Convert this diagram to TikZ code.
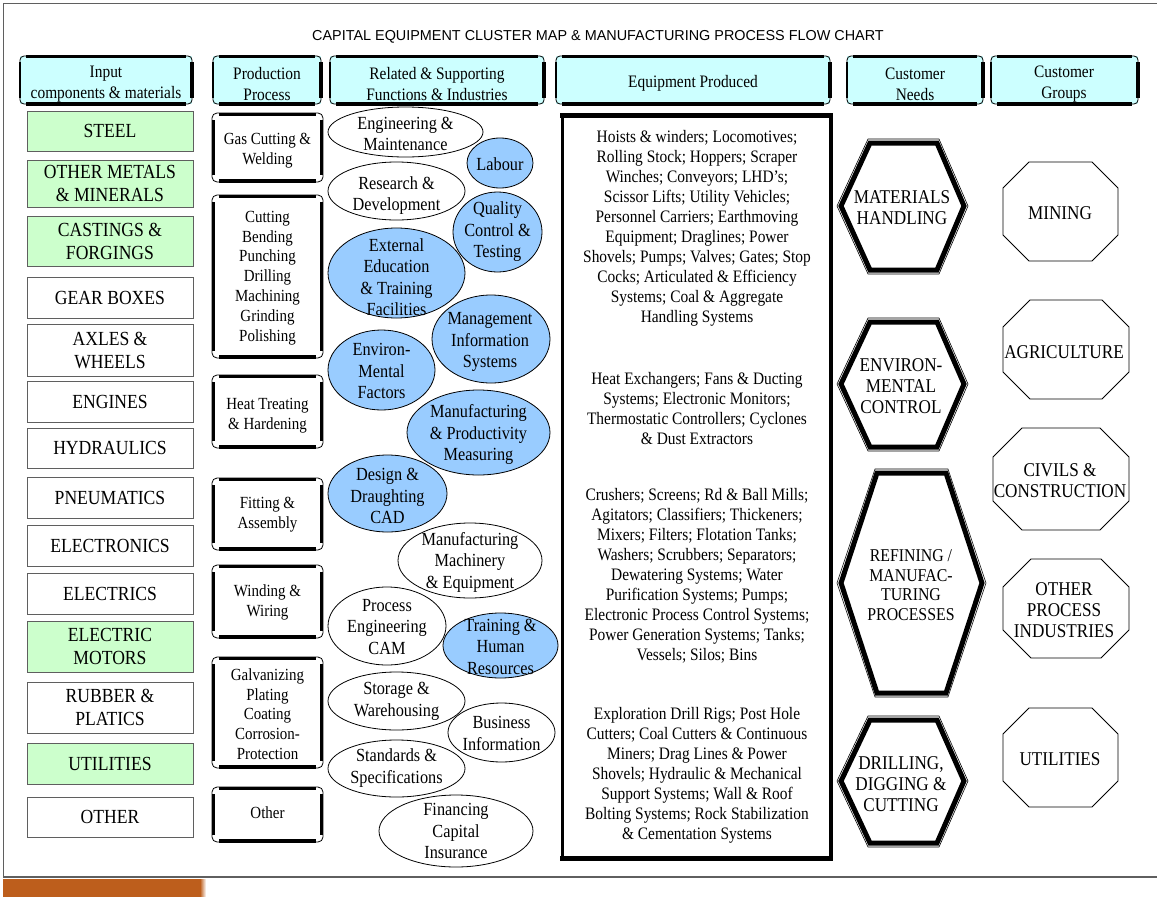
\documentclass[tikz,border=0pt]{standalone}
\usepackage{fontspec}
\setmainfont{Liberation Serif}[FakeStretch=0.88]
\newfontfamily\titlefont{Liberation Sans}
\definecolor{hcyan}{HTML}{CCFFFF}
\definecolor{igreen}{HTML}{CCFFCC}
\definecolor{eblue}{HTML}{99CCFF}
\definecolor{framegray}{HTML}{5F5F5F}
\definecolor{stripe}{HTML}{BD5E1C}
\newcommand\fsz[2]{\fontsize{#1}{#2}\selectfont}
% header shape: x0 y0 x1 y1
\newcommand\hdrshape[4]{%
  \fill[hcyan] (#1,#2) rectangle (#3,#4);
  \draw[line width=0.8, rounded corners=4] (#1,#2) rectangle (#3,#4);
  \draw[line width=3] (#1+6,#2) -- (#3-6,#2);
  \draw[line width=4] (#1+6,#4) -- (#3-6,#4);
  \draw[line width=2] (#1,#2+6) -- (#1,#4-6);
  \draw[line width=3.5] (#3,#2+6) -- (#3,#4-6);
}
% production shape
\newcommand\prodshape[4]{%
  \draw[fill=white, line width=0.8, rounded corners=5] (#1,#2) rectangle (#3,#4);
  \draw[line width=3.5] (#1+7,#2+1.5) -- (#3-7,#2+1.5);
  \draw[line width=4] (#1+7,#4-1.5) -- (#3-7,#4-1.5);
  \draw[line width=3] (#1+1.5,#2+7) -- (#1+1.5,#4-7);
  \draw[line width=3.5] (#3-1.5,#2+7) -- (#3-1.5,#4-7);
}
% hexagon: xl xtl xtr xr yt ym yb
\newcommand\hexa[7]{%
  \draw[line width=0.6] (#1-4,#6) -- (#2-2,#5-4) -- (#3+2,#5-4) -- (#4+4,#6) -- (#3+2,#7+4) -- (#2-2,#7+4) -- cycle;
  \draw[line width=5, fill=white] (#1,#6) -- (#2,#5) -- (#3,#5) -- (#4,#6) -- (#3,#7) -- (#2,#7) -- cycle;
}
% octagon: x0 y0 x1 y1 cut
\newcommand\octa[5]{%
  \draw[line width=0.8, fill=white] (#1+#5,#2) -- (#3-#5,#2) -- (#3,#2+#5) -- (#3,#4-#5) -- (#3-#5,#4) -- (#1+#5,#4) -- (#1,#4-#5) -- (#1,#2+#5) -- cycle;
}
\tikzset{
  hdrtext/.style={align=center, font=\fsz{17.5}{21}, inner sep=0},
  inbox/.style={draw=framegray, line width=1, fill=white, minimum width=166, align=center, font=\fsz{20}{23}, inner sep=0},
  ingreen/.style={inbox, fill=igreen},
  prodtext/.style={align=center, font=\fsz{17}{19.8}, inner sep=0},
  elltext/.style={align=center, font=\fsz{18.5}{21.5}, inner sep=0},
  whiteell/.style={draw, line width=0.8, fill=white},
  blueell/.style={draw, line width=0.8, fill=eblue},
  equiptext/.style={align=center, font=\fsz{17.5}{20}, inner sep=0},
  needtext/.style={align=center, font=\fsz{19.5}{21}, inner sep=0},
}
\begin{document}
\begin{tikzpicture}[x=1pt, y=-1pt]
\useasboundingbox (0,0) rectangle (1157,897);
\fill[white] (0,0) rectangle (1157,897);
% frame and bottom strip
\draw[framegray, line width=1] (1157,3) -- (3,3) -- (3,877);
\draw[framegray, line width=2.5] (3,877) -- (1157,877);
\fill[stripe] (3,879) rectangle (200,897);
\shade[left color=stripe, right color=white] (200,879) rectangle (206,897);

% title
\node[font=\titlefont\fontsize{14.4}{16}\selectfont, inner sep=0] (title) at (598,37) {CAPITAL EQUIPMENT CLUSTER MAP \& MANUFACTURING PROCESS FLOW CHART};

% headers
\hdrshape{20}{56}{192}{104}
\hdrshape{213}{56}{321}{104}
\hdrshape{330}{56}{544}{104}
\hdrshape{556}{56}{830}{104}
\hdrshape{847}{56}{983}{104}
\hdrshape{991}{56}{1138}{104}
\node[hdrtext] (hin) at (106,84) {Input\\components \& materials};
\node[hdrtext] (hprod) at (267,84) {Production\\Process};
\node[hdrtext] (hrel) at (437,84) {Related \& Supporting\\Functions \& Industries};
\node[hdrtext] (hequip) at (693,83) {Equipment Produced};
\node[hdrtext] (hneeds) at (915,84) {Customer\\Needs};
\node[hdrtext] (hgroups) at (1064,84) {Customer\\Groups};

% input components
\node[ingreen, minimum height=40] (steel) at (110,131) {STEEL};
\node[ingreen, minimum height=47] (metals) at (110,183.5) {OTHER METALS\\\& MINERALS};
\node[ingreen, minimum height=50] (castings) at (110,241) {CASTINGS \&\\FORGINGS};
\node[inbox, minimum height=41] (gear) at (110,297.5) {GEAR BOXES};
\node[inbox, minimum height=52] (axles) at (110,350.5) {AXLES \&\\WHEELS};
\node[inbox, minimum height=41] (engines) at (110,401.5) {ENGINES};
\node[inbox, minimum height=40] (hydraulics) at (110,448) {HYDRAULICS};
\node[inbox, minimum height=41] (pneumatics) at (110,497.5) {PNEUMATICS};
\node[inbox, minimum height=41] (electronics) at (110,545.5) {ELECTRONICS};
\node[inbox, minimum height=41] (electrics) at (110,593.5) {ELECTRICS};
\node[ingreen, minimum height=51] (motors) at (110,646.5) {ELECTRIC\\MOTORS};
\node[inbox, minimum height=51] (rubber) at (110,707.5) {RUBBER \&\\PLATICS};
\node[ingreen, minimum height=41] (utilin) at (110,763.5) {UTILITIES};
\node[inbox, minimum height=40] (otherin) at (110,817) {OTHER};

% production process
\prodshape{212}{113}{323}{182}
\prodshape{212}{195}{323}{358}
\prodshape{212}{375}{323}{448}
\prodshape{212}{478}{323}{550}
\prodshape{212}{565}{323}{638}
\prodshape{212}{657}{323}{768}
\prodshape{212}{787}{323}{842}
\node[prodtext] (gas) at (267.5,151) {Gas Cutting \&\\Welding};
\node[prodtext] (cutting) at (267.5,278) {Cutting\\Bending\\Punching\\Drilling\\Machining\\Grinding\\Polishing};
\node[prodtext] (heat) at (267.5,415.5) {Heat Treating\\\& Hardening};
\node[prodtext] (fitting) at (267.5,515) {Fitting \&\\Assembly};
\node[prodtext] (winding) at (267.5,602.5) {Winding \&\\Wiring};
\node[prodtext] (galv) at (267.5,714) {Galvanizing\\Plating\\Coating\\Corrosion-\\Protection};
\node[prodtext] (otherprod) at (267.5,813) {Other};

% related & supporting functions
\draw[whiteell] (405.5,132) ellipse [x radius=77.5pt, y radius=25pt];
\node[elltext] (eng) at (405.5,134) {Engineering \&\\Maintenance};
\draw[blueell] (500,163) ellipse [x radius=33pt, y radius=25pt];
\node[elltext] (labour) at (500,164) {Labour};
\draw[whiteell] (396.5,191) ellipse [x radius=68.5pt, y radius=29pt];
\node[elltext] (rd) at (396.5,195.5) {Research \&\\Development};
\draw[blueell] (497.5,232) ellipse [x radius=44.5pt, y radius=40pt];
\node[elltext] (qc) at (497.5,232) {Quality\\Control \&\\Testing};
\draw[blueell] (396.5,273) ellipse [x radius=68.5pt, y radius=45pt];
\node[elltext] (ext) at (396.5,277) {External\\Education\\\& Training\\Facilities};
\draw[blueell] (491,339) ellipse [x radius=59pt, y radius=44pt];
\node[elltext] (mis) at (490,342) {Management\\Information\\Systems};
\draw[blueell] (381.5,370) ellipse [x radius=53.5pt, y radius=40pt];
\node[elltext] (env) at (381.5,371) {Environ-\\Mental\\Factors};
\draw[blueell] (478.5,432.5) ellipse [x radius=71.5pt, y radius=42.5pt];
\node[elltext] (mpm) at (478.5,434.5) {Manufacturing\\\& Productivity\\Measuring};
\draw[blueell] (387.5,493.5) ellipse [x radius=59.5pt, y radius=38.5pt];
\node[elltext] (cad) at (387.5,496) {Design \&\\Draughting\\CAD};
\draw[whiteell] (470,560.5) ellipse [x radius=72pt, y radius=37.5pt];
\node[elltext] (mme) at (470,562) {Manufacturing\\Machinery\\\& Equipment};
\draw[whiteell] (387,626) ellipse [x radius=59pt, y radius=39pt];
\node[elltext] (pec) at (387,627) {Process\\Engineering\\CAM};
\draw[blueell] (500.5,645.5) ellipse [x radius=57.5pt, y radius=32.5pt];
\node[elltext] (thr) at (500.5,646.5) {Training \&\\Human\\Resources};
\draw[whiteell] (396.5,701) ellipse [x radius=68.5pt, y radius=29pt];
\node[elltext] (sw) at (396.5,701.5) {Storage \&\\Warehousing};
\draw[whiteell] (501.5,732.5) ellipse [x radius=53.5pt, y radius=29.5pt];
\node[elltext] (bi) at (501.5,733.5) {Business\\Information};
\draw[whiteell] (396.5,768.5) ellipse [x radius=68.5pt, y radius=28.5pt];
\node[elltext] (ss) at (396.5,768) {Standards \&\\Specifications};
\draw[whiteell] (456,831) ellipse [x radius=77pt, y radius=36pt];
\node[elltext] (fci) at (456,831) {Financing\\Capital\\Insurance};

% equipment produced
\draw[line width=3] (562,115) -- (562,858);
\draw[line width=4] (831,115) -- (831,858);
\draw[line width=5] (560,115) -- (833,115);
\draw[line width=5] (560,858) -- (833,858);
\node[equiptext] (eq1) at (697,228.5) {Hoists \& winders; Locomotives;\\Rolling Stock; Hoppers; Scraper\\Winches; Conveyors; LHD's;\\Scissor Lifts; Utility Vehicles;\\Personnel Carriers; Earthmoving\\Equipment; Draglines; Power\\Shovels; Pumps; Valves; Gates; Stop\\Cocks; Articulated \& Efficiency\\Systems; Coal \& Aggregate\\Handling Systems};
\node[equiptext] (eq2) at (697,408.5) {Heat Exchangers; Fans \& Ducting\\Systems; Electronic Monitors;\\Thermostatic Controllers; Cyclones\\\& Dust Extractors};
\node[equiptext] (eq3) at (697,576) {Crushers; Screens; Rd \& Ball Mills;\\Agitators; Classifiers; Thickeners;\\Mixers; Filters; Flotation Tanks;\\Washers; Scrubbers; Separators;\\Dewatering Systems; Water\\Purification Systems; Pumps;\\Electronic Process Control Systems;\\Power Generation Systems; Tanks;\\Vessels; Silos; Bins};
\node[equiptext] (eq4) at (697,775) {Exploration Drill Rigs; Post Hole\\Cutters; Coal Cutters \& Continuous\\Miners; Drag Lines \& Power\\Shovels; Hydraulic \& Mechanical\\Support Systems; Wall \& Roof\\Bolting Systems; Rock Stabilization\\\& Cementation Systems};

% customer needs
\hexa{841}{870}{937}{964}{143}{206}{270}
\hexa{841}{870}{937}{964}{322}{384}{447}
\hexa{841}{877}{946}{982}{473}{583}{693}
\hexa{841}{870}{937}{964}{720}{781}{843}
\node[needtext] (mat) at (902,208) {MATERIALS\\HANDLING};
\node[needtext] (envc) at (901,386) {ENVIRON-\\MENTAL\\CONTROL};
\node[needtext, font=\fsz{18}{19.5}] (ref) at (911,585) {REFINING /\\MANUFAC-\\TURING\\PROCESSES};
\node[needtext] (drill) at (901,784) {DRILLING,\\DIGGING \&\\CUTTING};

% customer groups
\octa{1003}{162}{1118}{261}{26}
\octa{1003}{300}{1129}{399}{27}
\octa{993}{428}{1129}{530}{29}
\octa{1003}{559}{1129}{658}{28}
\octa{1003}{708}{1118}{807}{26}
\node[needtext] (mining) at (1060,213) {MINING};
\node[needtext] (agri) at (1064,352) {AGRICULTURE};
\node[needtext] (civils) at (1060,481) {CIVILS \&\\CONSTRUCTION};
\node[needtext] (otherproc) at (1064,610) {OTHER\\PROCESS\\INDUSTRIES};
\node[needtext] (utilgrp) at (1060,759) {UTILITIES};
\end{tikzpicture}
\end{document}
